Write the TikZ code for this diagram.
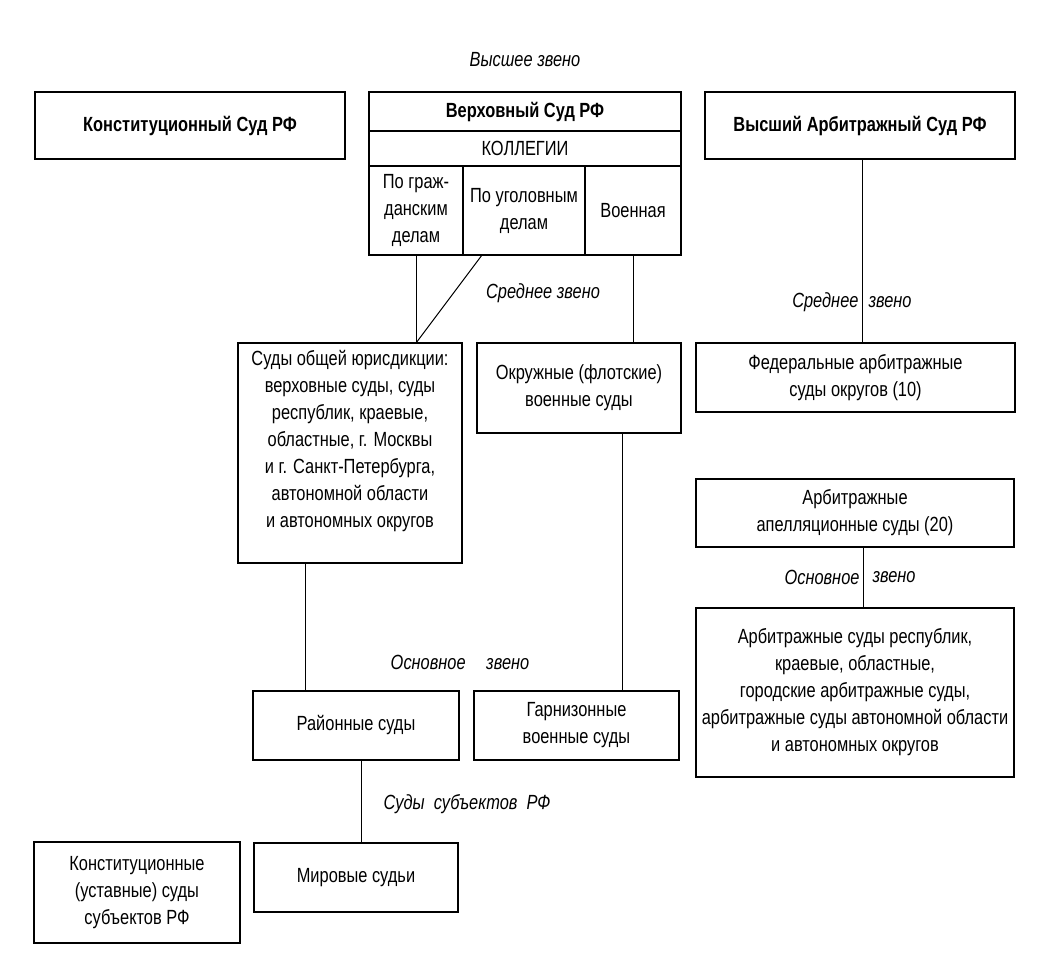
\documentclass[tikz,border=0pt]{standalone}
\usepackage{fontspec}
\setmainfont[FakeStretch=0.8]{Liberation Sans}
\usetikzlibrary{positioning}

\begin{document}
\begin{tikzpicture}[x=1pt, y=-1pt,
    box/.style={draw, line width=1.4pt, outer sep=0pt, inner sep=2pt, align=center, font=\fontsize{20.5}{27}\selectfont},
    head/.style={box, font=\fontsize{20.5}{27}\selectfont\bfseries},
    lbl/.style={inner sep=3pt, font=\fontsize{20.5}{24}\selectfont\itshape},
    link/.style={line width=1pt}]
    \useasboundingbox (0,0) rectangle (1045,980);

    % Top level
    \node (vysh) [lbl] at (525,60) {Высшее звено};
    \node (ks) [head, minimum width=310pt, minimum height=67pt] at (190,125.5) {Конституционный Суд РФ};
    \node (vas) [head, minimum width=310pt, minimum height=67pt] at (860,125.5) {Высший Арбитражный Суд РФ};

    % Supreme court with its boards
    \node (vs) [head, minimum width=312pt, minimum height=39pt] at (525,111.5) {Верховный Суд РФ};
    \node (koll) [box, below=0pt of vs, minimum width=312pt, minimum height=35pt] {КОЛЛЕГИИ};
    \node (crim) [box, below=0pt of koll, xshift=-1pt, minimum width=122pt, minimum height=89pt] {По уголовным\\делам};
    \node (civ) [box, left=0pt of crim, minimum width=94pt, minimum height=89pt] {По граж-\\данским\\делам};
    \node (mil) [box, right=0pt of crim, minimum width=96pt, minimum height=89pt] {Военная};

    % Middle level
    \node (sred) [lbl] at (543,293) {Среднее звено};
    \node (obsh) [box, minimum width=224pt, minimum height=220pt] at (350,453) {Суды общей юрисдикции:\\верховные суды, суды\\республик, краевые,\\областные, г. Москвы\\и г. Санкт-Петербурга,\\автономной области\\и автономных округов\\[2pt]};
    \node (okr) [box, minimum width=204pt, minimum height=90pt] at (579,388) {Окружные (флотские)\\военные суды};
    \node (fed) [box, minimum width=319pt, minimum height=69pt] at (855.5,377.5) {Федеральные арбитражные\\суды округов (10)};
    \node (app) [box, minimum width=318pt, minimum height=68pt] at (855,513) {Арбитражные\\апелляционные суды (20)};
    \node (reg) [box, minimum width=318pt, minimum height=169pt] at (855,692.5) {Арбитражные суды республик,\\краевые, областные,\\городские арбитражные суды,\\арбитражные суды автономной области\\и автономных округов};

    % Main level
    \node (osn) [lbl] at (460,662) {Основное\quad звено};
    \node (rai) [box, minimum width=206pt, minimum height=69pt] at (356,725.5) {Районные суды};
    \node (garn) [box, minimum width=205pt, minimum height=69pt] at (576.5,725.5) {Гарнизонные\\военные суды};
    \node (subj) [lbl] at (467,804) {Суды\ \ субъектов\ \ РФ};
    \node (mir) [box, minimum width=204pt, minimum height=69pt] at (356,877.5) {Мировые судьи};
    \node (ksub) [box, minimum width=206pt, minimum height=101pt] at (137,892.5) {Конституционные\\(уставные) суды\\субъектов РФ};

    % Lines
    \coordinate (j1) at (civ.south |- obsh.north);
    \draw[link] (civ.south) -- (j1);
    \draw[link] ([xshift=19pt]crim.south west) -- (j1);
    \draw[link] (mil.south) -- (mil.south |- okr.north);
    \draw[link] ([xshift=-45pt]obsh.south) -- ([xshift=-45pt]obsh.south |- rai.north);
    \draw[link] ([xshift=43pt]okr.south) -- ([xshift=43pt]okr.south |- garn.north);
    \draw[link] ([xshift=5pt]rai.south) -- ([xshift=5pt]rai.south |- mir.north);
    \draw[link] ([xshift=2pt]vas.south) -- node[lbl, pos=.78, left] {Среднее} node[lbl, pos=.78, right, xshift=3pt] {звено} ([xshift=2pt]vas.south |- fed.north);
    \draw[link] ([xshift=8pt]app.south) -- node[lbl, left] {Основное} node[lbl, right, xshift=6pt] {звено} ([xshift=8pt]app.south |- reg.north);
\end{tikzpicture}
\end{document}
